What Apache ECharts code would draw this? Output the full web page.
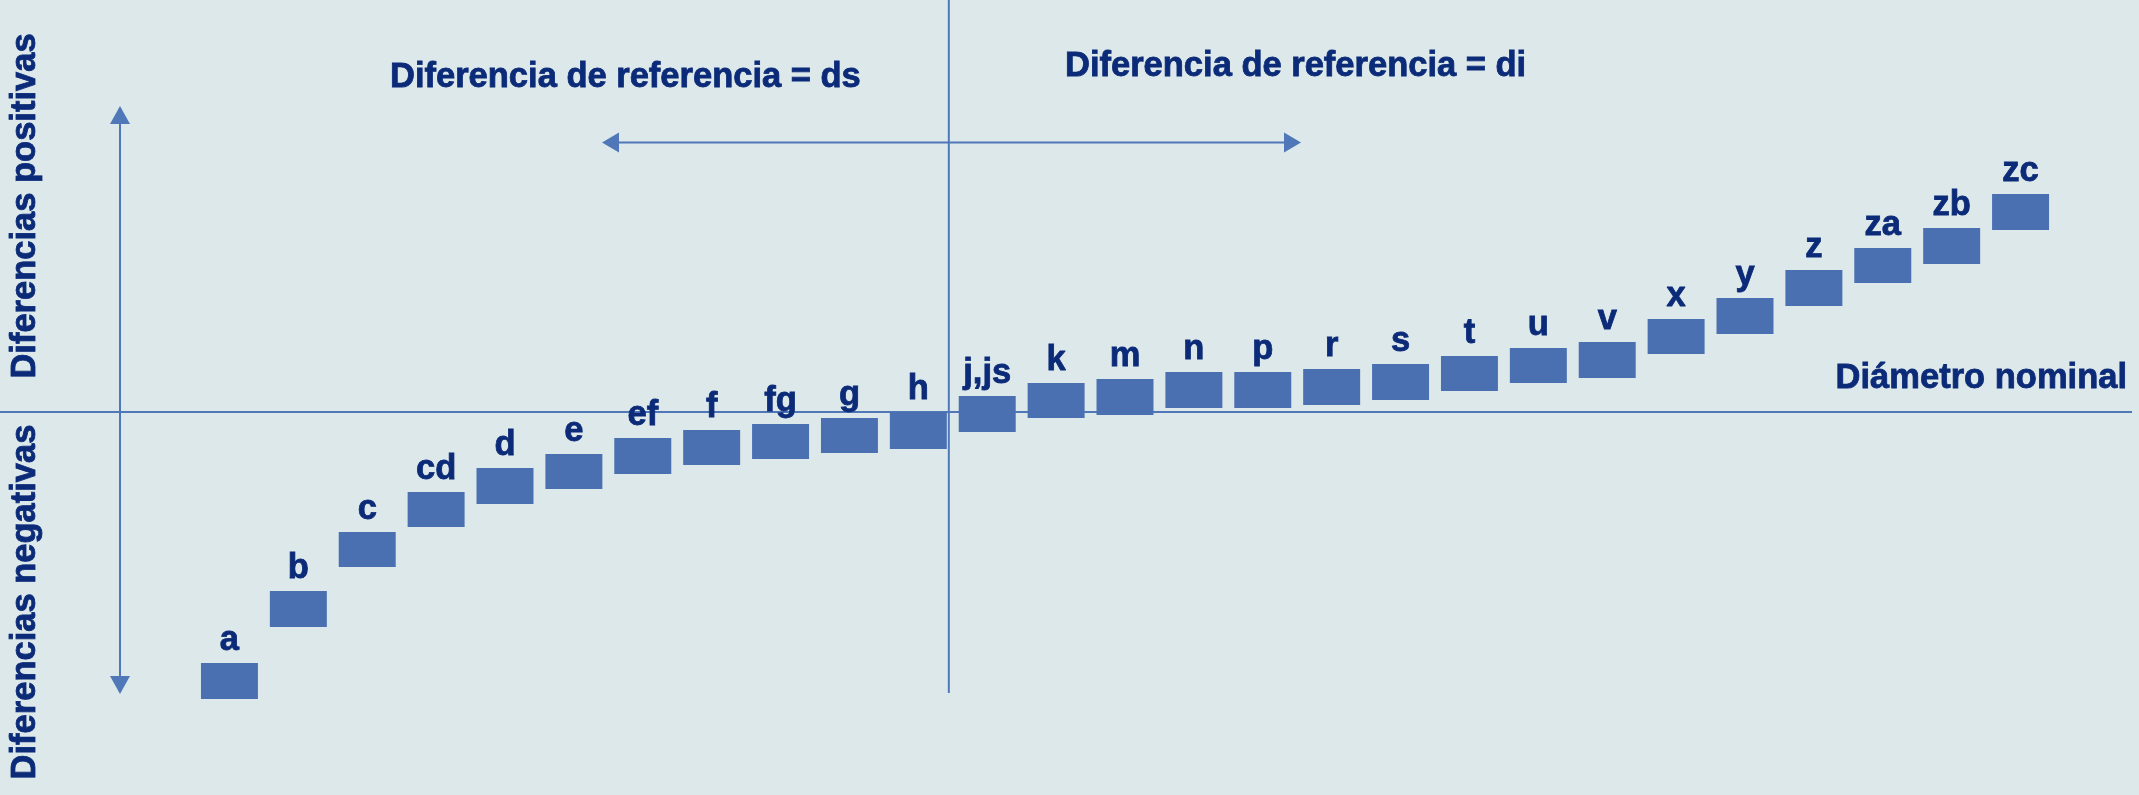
<!DOCTYPE html>
<html>
<head>
<meta charset="utf-8">
<script src="https://cdn.jsdelivr.net/npm/echarts@6/dist/echarts.min.js"></script>
<style>
html,body{margin:0;padding:0;background:#dde8ea;}
#chart{width:2139px;height:795px;}
</style>
</head>
<body>
<div id="chart"></div>
<script>
// Categories (fundamental deviation positions)
const categories = ['a','b','c','cd','d','e','ef','f','fg','g','h','j,js','k','m','n','p','r','s','t','u','v','x','y','z','za','zb','zc'];
// Upper limit of each tolerance box (schematic units, 0 = nominal diameter)
const upperDev = [-251,-179,-120,-80,-56,-42,-26,-18,-12,-6,0,16,29,33,40,40,43,48,56,64,70,93,114,142,164,184,218];
// Lower limit of each tolerance box
const lowerDev = [-287,-215,-155,-115,-92,-77,-62,-53,-47,-41,-37,-20,-6,-3,4,4,7,12,21,29,34,58,78,106,129,148,182];

const titleLeft = 'Diferencia de referencia = ds';
const titleRight = 'Diferencia de referencia = di';
const axisTitle = 'Diámetro nominal';
const posLabel = 'Diferencias positivas';
const negLabel = 'Diferencias negativas';

const BAR = '#4a70b1';
const LINE = '#5077b7';
const TXT = '#0b2a78';
const FONT = '"Liberation Sans", Arial, Helvetica, sans-serif';
const FS = 34.5;
const BAR_FRAC = 0.827;

const chart = echarts.init(document.getElementById('chart'), null, {renderer:'canvas'});

function renderItem(params, api) {
  const i = api.value(0);
  const hi = api.value(1);
  const lo = api.value(2);
  const p1 = api.coord([i, hi]);
  const p2 = api.coord([i, lo]);
  const w = api.size([1, 0])[0] * BAR_FRAC;
  return {
    type: 'group',
    children: [
      {type:'rect', shape:{x:p1[0]-w/2, y:p1[1], width:w, height:p2[1]-p1[1]}, style:{fill:BAR}},
      {type:'text', x:p1[0], y:p1[1]-5, style:{text:categories[i], fontSize:FS, fontWeight:'bold', fontFamily:FONT, fill:TXT, stroke:TXT, lineWidth:0.8, align:'center', verticalAlign:'bottom'}}
    ]
  };
}

chart.setOption({
  backgroundColor: '#dde8ea',
  animation: false,
  grid: {left:195, right:84, top:0, bottom:0},
  xAxis: {type:'category', data:categories, show:false, boundaryGap:true},
  yAxis: {type:'value', min:-383, max:412, show:false},
  series: [{
    type:'custom',
    z: 5,
    renderItem: renderItem,
    data: categories.map((c, i) => [i, upperDev[i], lowerDev[i]])
  }]
});

const y0 = chart.convertToPixel({yAxisIndex:0}, 0);
const xh = chart.convertToPixel({xAxisIndex:0}, 'h');
const xj = chart.convertToPixel({xAxisIndex:0}, 'j,js');
const band = xj - xh;
const xSep = xh + band * BAR_FRAC / 2 + 2;

const lineStyle = {stroke:LINE, lineWidth:2};
const headStyle = {fill:LINE};
const txt = (t, x, y, align, extra) => Object.assign({
  type:'text', x:x, y:y, z:3,
  style:{text:t, fontSize:FS, fontWeight:'bold', fontFamily:FONT, fill:TXT, stroke:TXT, lineWidth:0.8, align:align, verticalAlign:'middle'}
}, extra || {});

chart.setOption({
  graphic: [
    // nominal line (zero)
    {type:'line', z:1, shape:{x1:0, y1:y0, x2:2132, y2:y0}, style:lineStyle},
    // vertical separator between ds and di
    {type:'line', z:1, shape:{x1:xSep, y1:0, x2:xSep, y2:693}, style:lineStyle},
    // left vertical double arrow
    {type:'line', z:1, shape:{x1:120, y1:120, x2:120, y2:680}, style:lineStyle},
    {type:'polygon', z:1, shape:{points:[[120,106],[110,124],[130,124]]}, style:headStyle},
    {type:'polygon', z:1, shape:{points:[[120,694],[110,676],[130,676]]}, style:headStyle},
    // horizontal double arrow
    {type:'line', z:1, shape:{x1:615, y1:142.5, x2:1288, y2:142.5}, style:lineStyle},
    {type:'polygon', z:1, shape:{points:[[602,142.5],[619,132.5],[619,152.5]]}, style:headStyle},
    {type:'polygon', z:1, shape:{points:[[1301,142.5],[1284,132.5],[1284,152.5]]}, style:headStyle},
    // texts
    txt(titleLeft, 390, 77, 'left'),
    txt(titleRight, 1065, 66, 'left'),
    txt(axisTitle, 2127, 378, 'right'),
    txt(posLabel, 25, 206, 'center', {rotation:Math.PI/2}),
    txt(negLabel, 25, 602, 'center', {rotation:Math.PI/2})
  ]
});
</script>
</body>
</html>
